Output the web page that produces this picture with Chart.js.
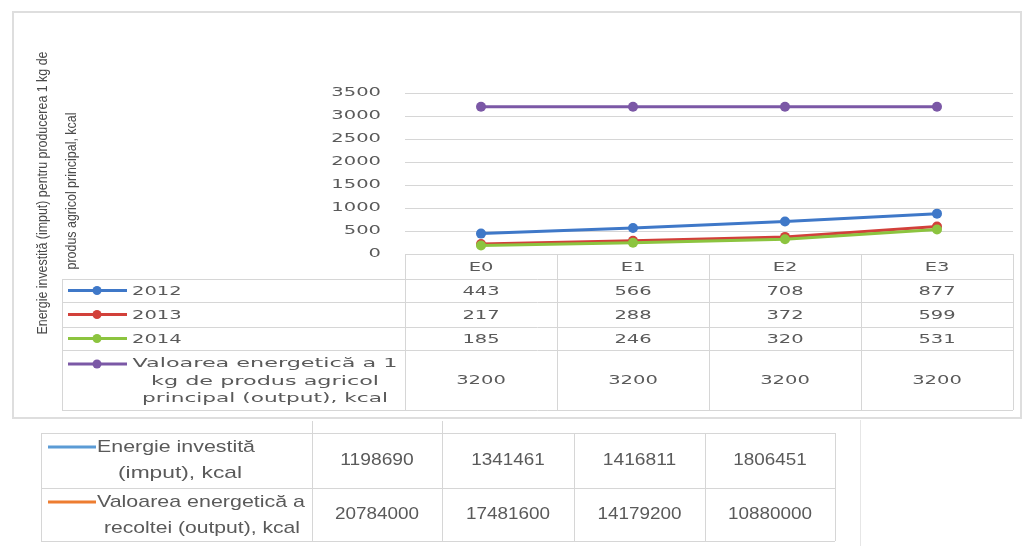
<!DOCTYPE html>
<html><head><meta charset="utf-8">
<script src="https://cdn.jsdelivr.net/npm/chart.js@4.4.1/dist/chart.umd.min.js"></script>
<style>html,body{margin:0;padding:0;background:#fff}canvas{display:block}</style>
</head><body>
<canvas id="c" width="1027" height="546"></canvas>
<script>
// ---- data ----
const categories = ['E0', 'E1', 'E2', 'E3'];
const yTicks = [0, 500, 1000, 1500, 2000, 2500, 3000, 3500];
const s2012 = [443, 566, 708, 877];
const s2013 = [217, 288, 372, 599];
const s2014 = [185, 246, 320, 531];
const sValoare = [3200, 3200, 3200, 3200];
const seriesNames = ['2012', '2013', '2014', 'Valoarea energetică a 1 kg de produs agricol principal (output), kcal'];
const seriesNameLines = [['2012'], ['2013'], ['2014'], ['Valoarea energetică a 1', 'kg de produs agricol', 'principal (output), kcal']];
const yTitleLines = ['Energie investită (imput) pentru producerea 1 kg de', 'produs agricol principal, kcal'];
const energieInvestita = [1198690, 1341461, 1416811, 1806451];
const valoareRecolta = [20784000, 17481600, 14179200, 10880000];
const table2Names = [['Energie investită', '(imput), kcal'], ['Valoarea energetică a', 'recoltei (output), kcal']];

const colors = ['#3f78c8', '#d2403a', '#8cc43f', '#7b58a6'];
const table2Colors = ['#5b9bd5', '#ed7d31'];
const txtColor = '#5a5a5a';
const lineColor = '#d6d6d6';

function txt(ctx, s, x, y, align, font, sx, color) {
  ctx.save();
  ctx.font = font; ctx.fillStyle = color || txtColor;
  ctx.textBaseline = 'middle'; ctx.textAlign = align;
  ctx.translate(x, y); ctx.scale(sx, 1);
  ctx.fillText(s, 0, 0);
  ctx.restore();
}
// draw text horizontally scaled to a target width
function fit(ctx, s, x, y, align, font, w, color) {
  ctx.save(); ctx.font = font;
  const m = ctx.measureText(s).width;
  ctx.restore();
  txt(ctx, s, x, y, align, font, w / m, color);
}
function hline(ctx, x0, x1, y) { ctx.beginPath(); ctx.moveTo(x0, y); ctx.lineTo(x1, y); ctx.stroke(); }
function vline(ctx, x, y0, y1) { ctx.beginPath(); ctx.moveTo(x, y0); ctx.lineTo(x, y1); ctx.stroke(); }

const mainFont = '13px "DejaVu Sans"';
const narrowFont = '17px "Liberation Sans", sans-serif';

const tablePlugin = {
  id: 'tablePlugin',
  afterDraw(chart) {
    const ctx = chart.ctx;
    const xs = chart.scales.x, ys = chart.scales.y;
    const area = chart.chartArea;
    // outer frame
    ctx.save();
    ctx.strokeStyle = '#dedede'; ctx.lineWidth = 2;
    ctx.strokeRect(13, 12, 1008, 406);
    ctx.restore();

    // y title (rotated), fitted to its length
    ctx.save();
    ctx.translate(43, 193); ctx.rotate(-Math.PI / 2);
    fit(ctx, yTitleLines[0], 0, 0, 'center', '15px "Liberation Sans"', 283, '#4a4a4a');
    ctx.restore();
    ctx.save();
    ctx.translate(72, 191); ctx.rotate(-Math.PI / 2);
    fit(ctx, yTitleLines[1], 0, 0, 'center', '15px "Liberation Sans"', 157, '#4a4a4a');
    ctx.restore();

    // y tick labels
    yTicks.forEach(v => txt(ctx, String(v), area.left - 24, ys.getPixelForValue(v), 'right', mainFont, 1.5));

    // data table
    const band = xs.getPixelForValue(1) - xs.getPixelForValue(0);
    const colEdges = [area.left];
    categories.forEach((c, i) => colEdges.push(xs.getPixelForValue(i) + band / 2));
    const rowsY = [area.bottom, 279, 302, 327, 350, 410];
    const leftX = 62;
    ctx.save();
    ctx.strokeStyle = lineColor; ctx.lineWidth = 1;
    for (let r = 1; r < rowsY.length; r++) hline(ctx, leftX, colEdges[colEdges.length - 1], rowsY[r] + 0.5);
    colEdges.forEach(x => vline(ctx, Math.round(x) + 0.5, area.bottom, 410));
    vline(ctx, leftX + 0.5, 279, 410);
    ctx.restore();

    // header
    categories.forEach((c, i) => txt(ctx, c, xs.getPixelForValue(i), (rowsY[0] + rowsY[1]) / 2 + 1, 'center', mainFont, 1.5));
    const allSeries = [s2012, s2013, s2014, sValoare];
    const multiW = [265, 228, 246];
    allSeries.forEach((ser, r) => {
      const yc = (rowsY[r + 1] + rowsY[r + 2]) / 2;
      ser.forEach((v, i) => txt(ctx, String(v), xs.getPixelForValue(i), yc + 1, 'center', mainFont, 1.5));
      const lines = seriesNameLines[r];
      const keyY = lines.length > 1 ? 364 : yc;
      ctx.save();
      ctx.strokeStyle = colors[r]; ctx.lineWidth = 3;
      hline(ctx, 68, 127, keyY);
      ctx.fillStyle = colors[r];
      ctx.beginPath(); ctx.arc(97, keyY, 4.5, 0, Math.PI * 2); ctx.fill();
      ctx.restore();
      if (lines.length === 1) {
        txt(ctx, lines[0], 132, yc + 1, 'left', mainFont, 1.5);
      } else {
        lines.forEach((s, k) => fit(ctx, s, 265, 364 + k * 17.5, 'center', mainFont, multiW[k]));
      }
    });

    // bottom table
    const bCols = [41, 312, 442, 574, 705, 835];
    const bRows = [433, 488, 541];
    ctx.save();
    ctx.strokeStyle = lineColor; ctx.lineWidth = 1;
    bRows.forEach(y => hline(ctx, bCols[0], bCols[bCols.length - 1], y + 0.5));
    bCols.forEach((x, k) => vline(ctx, x + 0.5, (k === 1 || k === 2) ? 421 : 433, 541));
    ctx.strokeStyle = '#e6e6e6';
    vline(ctx, 860.5, 420, 546);
    ctx.restore();
    const bData = [energieInvestita, valoareRecolta];
    const nameW = [[158, 124], [208, 196]];
    const name2C = [180, 202];
    bData.forEach((ser, r) => {
      const y0 = bRows[r], y1 = bRows[r + 1];
      const yc = (y0 + y1) / 2;
      ser.forEach((v, i) => {
        const s = String(v);
        fit(ctx, s, (bCols[i + 1] + bCols[i + 2]) / 2, yc, 'center', narrowFont, s.length * 10.5);
      });
      ctx.save();
      ctx.strokeStyle = table2Colors[r]; ctx.lineWidth = 3;
      hline(ctx, 48, 96, y0 + 14);
      ctx.restore();
      fit(ctx, table2Names[r][0], 97, y0 + 14, 'left', narrowFont, nameW[r][0]);
      fit(ctx, table2Names[r][1], name2C[r], y0 + 40, 'center', narrowFont, nameW[r][1]);
    });
  }
};

const mk = (label, data, col, order) => ({
  label, data, borderColor: col, backgroundColor: col,
  borderWidth: 3, pointRadius: 5, pointHoverRadius: 5,
  pointBackgroundColor: col, pointBorderColor: col, pointBorderWidth: 0,
  tension: 0, order
});

new Chart(document.getElementById('c'), {
  type: 'line',
  data: {
    labels: categories,
    datasets: [
      mk(seriesNames[0], s2012, colors[0], 4),
      mk(seriesNames[1], s2013, colors[1], 3),
      mk(seriesNames[2], s2014, colors[2], 2),
      mk(seriesNames[3], sValoare, colors[3], 1)
    ]
  },
  options: {
    responsive: false, animation: false,
    layout: { padding: { left: 0, top: 93, right: 14, bottom: 292 } },
    plugins: { legend: { display: false }, tooltip: { enabled: false } },
    scales: {
      x: { display: false, offset: true },
      y: {
        min: 0, max: 3500,
        afterBuildTicks: s => { s.ticks = yTicks.map(v => ({ value: v })); },
        afterFit: s => { s.width = 405; },
        ticks: { display: false },
        grid: { color: lineColor, drawTicks: false },
        border: { display: false }
      }
    }
  },
  plugins: [tablePlugin]
});
</script>
</body></html>
